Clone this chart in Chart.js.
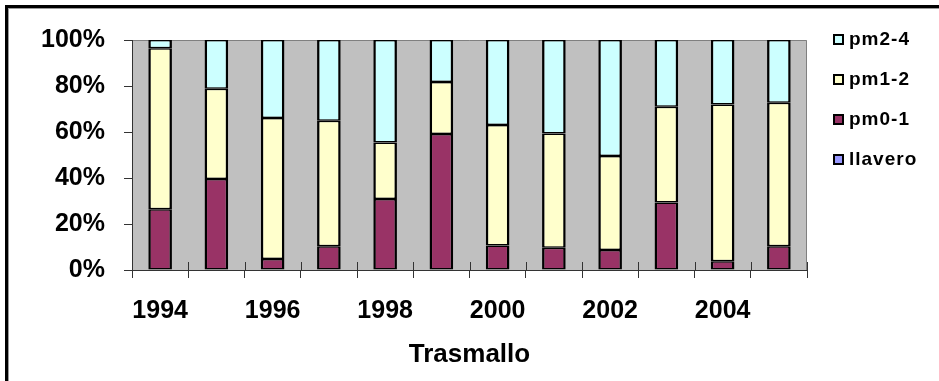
<!DOCTYPE html>
<html>
<head>
<meta charset="utf-8">
<script src="https://cdn.jsdelivr.net/npm/chart.js@4"></script>
<style>
  html, body { margin: 0; padding: 0; background: #fff; }
  #wrap { position: relative; width: 939px; height: 381px; overflow: hidden; }
  #wrap canvas { position: absolute; left: 0; top: 0; }
  #frame {
    position: absolute; left: 5px; top: 5px; width: 1000px; height: 1000px;
    border-left: 3px solid #000; border-top: 3px solid #000;
    box-shadow: inset 1px 1px 0 #9a9a9a;
    pointer-events: none;
  }
</style>
</head>
<body>
<div id="wrap">
  <canvas id="chart" width="939" height="381"></canvas>
  <div id="frame"></div>
</div>
<script>
// Share of each size class per year (percent of total)
const years   = ['1994','1995','1996','1997','1998','1999','2000','2001','2002','2003','2004','2005'];
const llavero = [0, 0, 0, 0, 0, 0, 0, 0, 0, 0, 0, 0];
const pm01    = [26.4, 39.6, 4.8, 10.3, 30.9, 59.1, 10.7, 9.7, 8.7, 29.3, 3.8, 10.3];
const pm12    = [70.0, 39.2, 61.3, 54.6, 24.5, 22.6, 52.3, 49.6, 40.9, 41.7, 68.2, 62.4];
const pm24    = [3.6, 21.2, 33.9, 35.1, 44.6, 18.3, 37.0, 40.7, 50.4, 29.0, 28.0, 27.3];
const seriesNames = ['llavero', 'pm0-1', 'pm1-2', 'pm2-4'];
const axisTitle = 'Trasmallo';

const FONT = '"Liberation Sans", Arial, sans-serif';

// Grey plot area with a thin border on top and right
const plotBackground = {
  id: 'plotBackground',
  beforeDraw(chart) {
    const { ctx, chartArea: a } = chart;
    ctx.save();
    ctx.fillStyle = '#c0c0c0';
    ctx.fillRect(a.left, a.top, a.right - a.left, a.bottom - a.top);
    ctx.strokeStyle = '#808080';
    ctx.lineWidth = 1;
    ctx.beginPath();
    ctx.moveTo(a.left, a.top + 0.5);
    ctx.lineTo(a.right - 0.5, a.top + 0.5);
    ctx.lineTo(a.right - 0.5, a.bottom);
    ctx.stroke();
    ctx.restore();
  }
};

// Category tick marks cross the axis line (inner half)
const innerTicks = {
  id: 'innerTicks',
  afterDraw(chart) {
    const { ctx } = chart;
    const x = chart.scales.x;
    const n = years.length;
    const step = (x.right - x.left) / n;
    ctx.save();
    ctx.strokeStyle = '#333';
    ctx.lineWidth = 1;
    ctx.beginPath();
    for (let i = 0; i <= n; i++) {
      const px = Math.round(x.left + i * step) + 0.5;
      ctx.moveTo(px, x.top - 8);
      ctx.lineTo(px, x.top);
    }
    ctx.stroke();
    ctx.restore();
  }
};

// Legend on the right, top series first
const sideLegend = {
  id: 'sideLegend',
  afterDraw(chart) {
    const { ctx } = chart;
    const items = chart.data.datasets.slice().reverse();
    ctx.save();
    ctx.font = 'bold 19px ' + FONT;
    ctx.textBaseline = 'middle';
    ctx.textAlign = 'left';
    if ('letterSpacing' in ctx) ctx.letterSpacing = '1px';
    items.forEach((ds, i) => {
      const cy = 39 + i * 40;
      ctx.fillStyle = ds.backgroundColor;
      ctx.fillRect(834, cy - 4, 9, 9);
      ctx.strokeStyle = '#000';
      ctx.lineWidth = 2;
      ctx.strokeRect(834, cy - 4, 9, 9);
      ctx.fillStyle = '#000';
      ctx.fillText(ds.label, 849, cy + 1);
    });
    ctx.restore();
  }
};

const colors = ['#9999ff', '#993366', '#ffffcc', '#ccffff'];
const values = [llavero, pm01, pm12, pm24];

new Chart(document.getElementById('chart'), {
  type: 'bar',
  data: {
    labels: years,
    datasets: seriesNames.map((name, i) => ({
      label: name,
      data: values[i],
      backgroundColor: colors[i],
      borderColor: '#000',
      borderWidth: { top: 1.5, bottom: 1.5, left: 2.5, right: 2.5 },
      borderSkipped: false,
      barPercentage: 0.42,
      categoryPercentage: 1.0
    }))
  },
  options: {
    responsive: false,
    animation: false,
    devicePixelRatio: 1,
    layout: { padding: { top: 40, right: 132, left: 0, bottom: 0 } },
    plugins: { legend: { display: false }, tooltip: { enabled: false } },
    scales: {
      x: {
        stacked: true,
        grid: { offset: true, drawOnChartArea: false, drawTicks: true, tickLength: 8, color: '#333' },
        border: { color: '#333', width: 1 },
        ticks: {
          autoSkip: false, maxRotation: 0, minRotation: 0,
          padding: 18, color: '#000',
          font: { family: FONT, size: 25, weight: 'bold' },
          callback: (v, i) => (i % 2 === 0 ? years[i] : '')
        },
        title: {
          display: true, text: axisTitle, color: '#000',
          font: { family: FONT, size: 26, weight: 'bold' },
          padding: { top: 0, bottom: 11 }
        },
        afterFit: (s) => { s.height = 111; }
      },
      y: {
        stacked: true, min: 0, max: 100,
        grid: { drawOnChartArea: false, drawTicks: true, tickLength: 8, color: '#333' },
        border: { color: '#333', width: 1 },
        ticks: {
          stepSize: 20, padding: 19, color: '#000',
          font: { family: FONT, size: 25, weight: 'bold' },
          callback: (v) => v + '%'
        },
        afterFit: (s) => { s.width = 132; }
      }
    }
  },
  plugins: [plotBackground, innerTicks, sideLegend]
});
</script>
</body>
</html>
